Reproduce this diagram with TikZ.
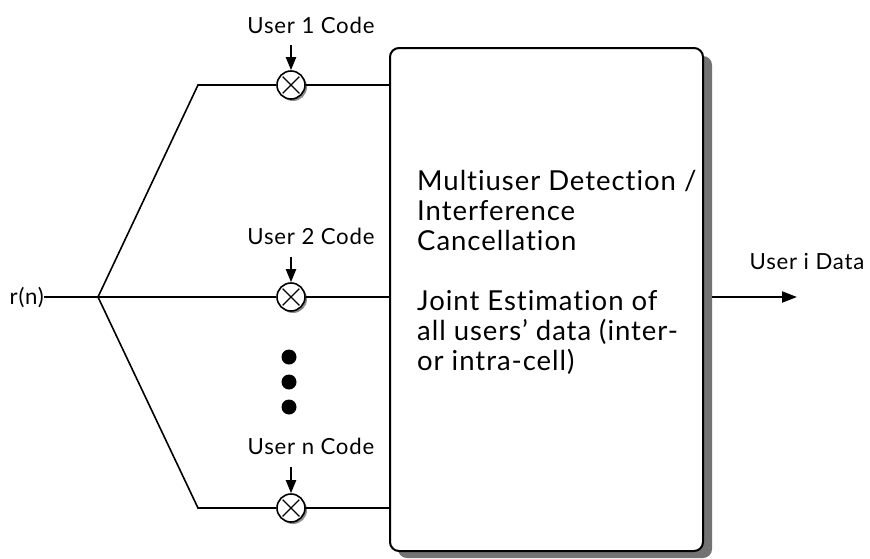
\documentclass[tikz,border=0pt]{standalone}
\usepackage{fontspec}
\setmainfont{Lato}[LetterSpace=3.5,Ligatures={NoCommon,NoContextual}]
\usetikzlibrary{arrows.meta,shadows,calc}
\begin{document}
\begin{tikzpicture}[x=1pt,y=-1pt,
  wire/.style={line width=2pt},
  slant/.style={line width=1.6pt},
  mult/.style={circle,draw,line width=1.6pt,minimum size=28pt,inner sep=0pt,fill=white,
     drop shadow={shadow xshift=2pt,shadow yshift=-2pt,fill=black!45,opacity=1}},
  lbl/.style={font=\fontsize{22.2}{24}\selectfont,inner sep=0pt,anchor=base},
  codearrow/.style={line width=2pt,-{Triangle[length=13pt,width=10pt]}},
  dot/.style={circle,fill=black,minimum size=15pt,inner sep=0pt}]
\useasboundingbox (0,0) rectangle (870,558);
% big box with shadow
\fill[black!55,rounded corners=9pt] (398,56) rectangle (712,558);
\node[draw,line width=2pt,rounded corners=9pt,fill=white,minimum width=313pt,minimum height=503pt,inner sep=0pt] (box) at (546.5,299.5) {};
\node[anchor=base west,align=left,font=\fontsize{27.5}{30}\selectfont,inner sep=0pt] (txt) at (417,370)
 {Multiuser Detection /\\Interference\\Cancellation\\[30pt]Joint Estimation of\\all users' data (inter-\\or intra-cell)};
% input
\node[lbl,anchor=base east] (rn) at (44,304) {r(n)};
\coordinate (fan) at (98,297);
\coordinate (k1) at (198,85);
\coordinate (k3) at (198,508);
\node[mult] (m1) at (291,85) {};
\node[mult] (m2) at (291,297) {};
\node[mult] (m3) at (291,508) {};
\foreach \m in {m1,m2,m3}{
  \draw[line width=1.3pt] ($(\m.center)!0.8!(\m.north west)$) -- ($(\m.center)!0.8!(\m.south east)$);
  \draw[line width=1.3pt] ($(\m.center)!0.8!(\m.north east)$) -- ($(\m.center)!0.8!(\m.south west)$);
}
\draw[wire] (rn.east |- fan) -- (fan);
\draw[slant] (fan) -- (k1) -- (m1.west);
\draw[wire] (fan) -- (m2.west);
\draw[slant] (fan) -- (k3) -- (m3.west);
\draw[slant] (m1.east) -- (box.west |- m1);
\draw[wire] (m2.east) -- (box.west |- m2);
\draw[slant] (m3.east) -- (box.west |- m3);
% code labels
\node[lbl] (c1) at (311,33) {User 1 Code};
\node[lbl] (c2) at (311,244) {User 2 Code};
\node[lbl] (c3) at (311,454) {User n Code};
\coordinate (a1) at (291,45);
\coordinate (a2) at (291,257);
\coordinate (a3) at (291,467);
\draw[codearrow] (a1) -- (m1.north);
\draw[codearrow] (a2) -- (m2.north);
\draw[codearrow] (a3) -- (m3.north);
% dots
\node[dot] (d1) at (289,357) {};
\node[dot] (d2) at (289,382) {};
\node[dot] (d3) at (289,407) {};
% output
\coordinate (out) at (797,297);
\draw[wire,-{Triangle[length=15pt,width=11pt]}] (712,297) -- (out);
\node[lbl] (od) at (807,269) {User i Data};
\end{tikzpicture}
\end{document}
